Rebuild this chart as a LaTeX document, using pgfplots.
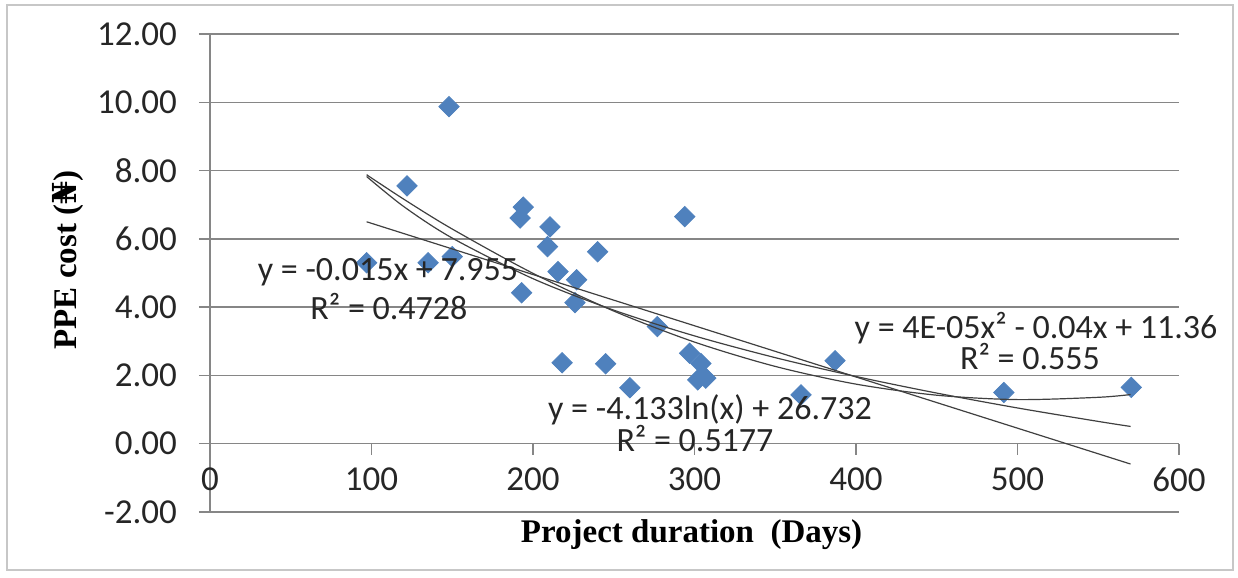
\documentclass[border=0pt]{standalone}
\usepackage{pgfplots}
\pgfplotsset{compat=1.18}
\usepackage{fontspec}
\setmainfont{Carlito}
\newfontfamily\titlefont{Liberation Serif}
\newfontfamily\nairafont{DejaVu Serif}
\definecolor{ptblue}{HTML}{4F81BD}
\definecolor{gridgray}{HTML}{868686}
\tikzset{
  trend/.style={black!75, line width=0.6bp},
  eq/.style={font=\fontsize{17bp}{20bp}\selectfont, text=black!85, inner sep=0pt},
}

% PPE cost against project duration, with three trendlines
\pgfplotstableread{
x y
97 5.30
122 7.55
135 5.30
148 9.87
150 5.48
192 6.61
194 6.93
193 4.42
209 5.77
210.5 6.35
215.5 5.04
218 2.37
226 4.13
227 4.80
240 5.62
245 2.34
260 1.64
277 3.43
294 6.65
297 2.65
304 2.35
302 1.87
307 1.92
366 1.43
387 2.43
491.5 1.50
570.5 1.65
}\ppedata

\begin{document}
\begin{tikzpicture}
\useasboundingbox (-105bp,-33bp) rectangle (514bp,256bp);
\draw[black!22, line width=1bp] (-101.5bp,-29bp) rectangle (511.5bp,253.5bp);
\begin{axis}[
  at={(0,0)}, anchor=south west,
  scale only axis, width=484.5bp, height=239bp,
  xmin=0, xmax=600, ymin=-2, ymax=12,
  xtick={0,100,...,600}, ytick={-2,0,...,12},
  axis x line*=middle, axis y line*=left,
  hide obscured x ticks=false,
  clip mode=individual,
  ymajorgrids, grid style={gridgray, line width=0.75bp},
  axis line style={gridgray, line width=0.75bp},
  tick align=outside, major tick length=5.5bp,
  every tick/.style={gridgray, line width=0.75bp},
  tick label style={font=\fontsize{17.5bp}{20bp}\selectfont, text=black!85,
    /pgf/number format/assume math mode=true},
  yticklabel style={/pgf/number format/.cd, fixed, fixed zerofill, precision=2,
    /tikz/.cd, xshift=-7.5bp},
  xticklabel style={yshift=-3bp},
  xlabel={\titlefont\bfseries Project duration\ \ (Days)},
  ylabel={\titlefont\bfseries PPE cost ({\nairafont\bfseries ₦})},
  every axis x label/.style={at={(axis description cs:0.497,-0.048)}, anchor=center,
    font=\fontsize{16.5bp}{19bp}\selectfont},
  every axis y label/.style={at={(axis description cs:-0.1466,0.527)}, anchor=center,
    rotate=90, font=\fontsize{16.5bp}{19bp}\selectfont},
]
\addplot[only marks, mark=square*, mark size=3.6bp,
  mark options={rotate=45, fill=ptblue, draw=ptblue}] table {\ppedata};
% linear
\addplot[trend, no markers] coordinates {(97,6.500) (570,-0.595)};
% logarithmic
\addplot[trend, no markers, smooth] coordinates {
  (97,7.825) (120,6.945) (150,6.023) (200,4.834) (250,3.912) (300,3.158)
  (350,2.521) (400,1.969) (450,1.483) (500,1.047) (550,0.653) (570,0.506)};
% polynomial
\addplot[trend, no markers, smooth] coordinates {
  (97,7.878) (120,7.161) (150,6.288) (200,4.990) (250,3.886) (300,2.977)
  (350,2.264) (400,1.745) (450,1.421) (500,1.292) (550,1.359) (570,1.440)};
\node[eq] at (axis cs:110.2,5.01) {y = -0.015x + 7.955};
\node[eq] at (axis cs:110.8,4.01) {R² = 0.4728};
\node[eq] at (axis cs:309.6,0.99) {y = -4.133ln(x) + 26.732};
\node[eq] at (axis cs:300.3,0.15) {R² = 0.5177};
\node[eq] at (axis cs:511.5,3.40) {y = 4E-05x² - 0.04x + 11.36};
\node[eq] at (axis cs:507.7,2.55) {R² = 0.555};
\end{axis}
\end{tikzpicture}
\end{document}
